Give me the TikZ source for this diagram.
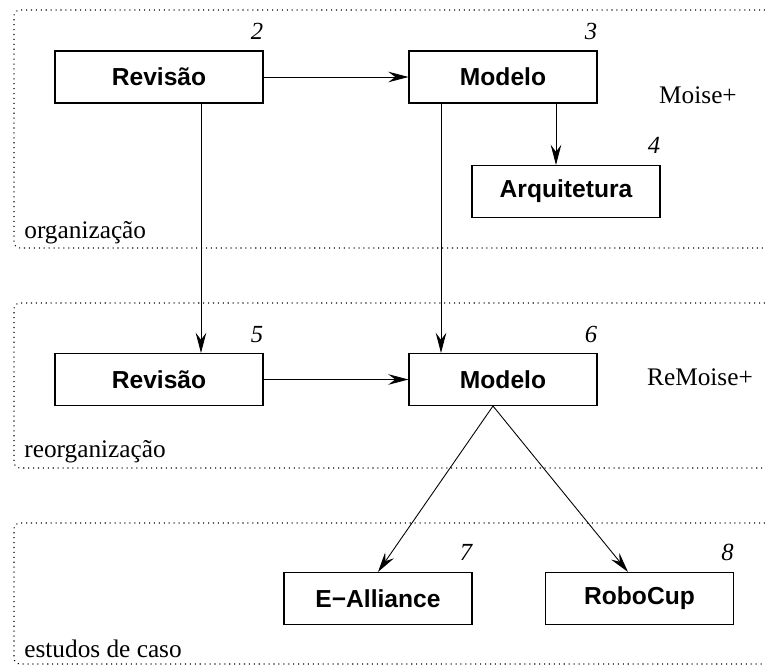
\documentclass[tikz,border=0pt]{standalone}
\usepackage{fontspec}
\setmainfont{Liberation Serif}
\setsansfont{Liberation Sans}
\usetikzlibrary{arrows.meta}
\tikzset{
  modulo/.style={draw, line width=0.6pt, minimum height=1.04cm, inner sep=0pt,
    font=\sffamily\bfseries\fontsize{14}{16}\selectfont},
  numero/.style={anchor=base east, inner sep=0pt, font=\itshape\fontsize{14}{16}\selectfont},
  rotulo/.style={inner sep=0pt, font=\fontsize{14.4}{16}\selectfont},
  regiao/.style={line width=0.6pt, dash pattern=on 0.6pt off 2.2pt, rounded corners=0.12cm},
  seta/.style={line width=0.5pt, -{Stealth[length=11.5pt,width=6pt,inset=4pt]}}
}
\begin{document}
\begin{tikzpicture}[x=0.02cm,y=-0.02cm]
        \useasboundingbox (0,0) rectangle (765,666);
        % regioes
        \draw[regiao] (765,10) -- (14,10) -- (14,248) -- (765,248);
        \draw[regiao] (765,303) -- (14,303) -- (14,468) -- (765,468);
        \draw[regiao] (765,523) -- (14,523) -- (14,664) -- (765,664);
        \node[rotulo, anchor=base west] (org) at (24,238) {organização};
        \node[rotulo, anchor=base west] (reorg) at (24,457) {reorganização};
        \node[rotulo, anchor=base west] (casos) at (24,657) {estudos de caso};
        \node[rotulo, anchor=base] (moise) at (698,103) {Moise+};
        \node[rotulo, anchor=base] (remoise) at (700,385) {ReMoise+};
        % modulos
        \node[modulo, minimum width=4.16cm] (rev1) at (159,77) {Revisão};
        \node[modulo, minimum width=3.76cm] (mod1) at (503,77) {Modelo};
        \node[modulo, minimum width=3.76cm] (arq) at (566,191.5) {Arquitetura};
        \node[modulo, minimum width=4.16cm] (rev2) at (159,379.5) {Revisão};
        \node[modulo, minimum width=3.76cm] (mod2) at (503,379.5) {Modelo};
        \node[modulo, minimum width=3.76cm] (eall) at (378,598.5) {E−Alliance};
        \node[modulo, minimum width=3.76cm] (robo) at (639.5,598.5) {RoboCup};
        % numeros
        \node[numero] (n2) at ([yshift=0.22cm]rev1.north east) {2};
        \node[numero] (n3) at ([yshift=0.22cm]mod1.north east) {3};
        \node[numero] (n4) at ([yshift=0.22cm]arq.north east) {4};
        \node[numero] (n5) at ([yshift=0.21cm]rev2.north east) {5};
        \node[numero] (n6) at ([yshift=0.21cm]mod2.north east) {6};
        \node[numero] (n7) at ([yshift=0.22cm]eall.north east) {7};
        \node[numero] (n8) at ([yshift=0.22cm]robo.north east) {8};
        % setas
        \draw[seta] (rev1) -- (mod1);
        \draw[seta] (rev2) -- (mod2);
        \draw[seta] ([xshift=0.84cm]rev1.south) -- ([xshift=0.84cm]rev2.north);
        \draw[seta] ([xshift=-1.24cm]mod1.south) -- ([xshift=-1.24cm]mod2.north);
        \draw[seta] ([xshift=1.06cm]mod1.south) -- ([xshift=1.06cm]mod1.south |- arq.north);
        \draw[seta] ([xshift=-0.2cm]mod2.south) -- (eall.north);
        \draw[seta] ([xshift=-0.2cm]mod2.south) -- ([xshift=-0.23cm]robo.north);
    \end{tikzpicture}
\end{document}
